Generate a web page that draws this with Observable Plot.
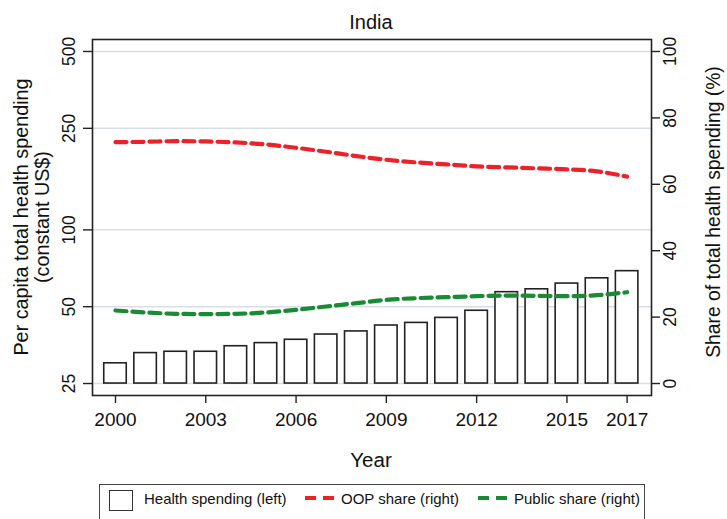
<!DOCTYPE html>
<html>
<head>
<meta charset="utf-8">
<script src="https://cdn.jsdelivr.net/npm/d3@7"></script>
<script src="https://cdn.jsdelivr.net/npm/@observablehq/plot@0.6"></script>
<style>
  html, body { margin: 0; padding: 0; background: #fff; }
  #wrap { position: relative; width: 727px; height: 519px; overflow: hidden; font-family: "Liberation Sans", Arial, sans-serif; color: #111; }
  .abs { position: absolute; white-space: nowrap; }
  .rot { transform: translate(-50%, -50%) rotate(-90deg); text-align: center; }
  #legend { position: absolute; left: 99px; top: 484px; width: 546px; height: 44px; border: 1px solid #444; box-sizing: border-box; }
  #legend .item { position: absolute; font-size: 15px; line-height: 15px; top: 5px; white-space: nowrap; }
  #legend svg { display: block; }
</style>
</head>
<body>
<div id="wrap"></div>
<script>
// ---- data ----
const years = [2000, 2001, 2002, 2003, 2004, 2005, 2006, 2007, 2008, 2009, 2010, 2011, 2012, 2013, 2014, 2015, 2016, 2017];
const spending = [30.0, 32.9, 33.3, 33.3, 35.0, 36.0, 37.1, 38.9, 40.0, 42.2, 43.2, 45.2, 48.2, 57.0, 58.5, 61.6, 64.6, 68.9];
const oopShare = [72.7, 72.8, 73.0, 72.9, 72.6, 72.0, 71.0, 69.8, 68.5, 67.4, 66.6, 66.0, 65.4, 65.1, 64.8, 64.5, 63.9, 62.3];
const publicShare = [22.0, 21.4, 21.0, 20.9, 21.0, 21.4, 22.2, 23.2, 24.2, 25.2, 25.7, 26.0, 26.3, 26.5, 26.4, 26.3, 26.6, 27.5];
const leftTicks = [25, 50, 100, 250, 500];
const rightTicks = [0, 20, 40, 60, 80, 100];
const xTicks = [2000, 2003, 2006, 2009, 2012, 2015, 2017];
const titleText = "India";
const xLabel = "Year";
const yLabelLeft = ["Per capita total health spending", "(constant US$)"];
const yLabelRight = "Share of total health spending (%)";
const legendLabels = ["Health spending (left)", "OOP share (right)", "Public share (right)"];

const RED = "#ec2227";
const GREEN = "#1a8a34";

// right axis (0-100 %) shares the plot height with left axis (25-500, log)
const shareToY = s => 25 * Math.pow(20, s / 100);

const data = years.map((year, i) => ({year, spend: spending[i], oop: oopShare[i], pub: publicShare[i]}));

const plot = Plot.plot({
  width: 727,
  height: 519,
  marginLeft: 92,
  marginRight: 76,
  marginTop: 39,
  marginBottom: 124,
  style: {fontFamily: '"Liberation Sans", Arial, sans-serif', fontSize: "18px", color: "#111", background: "transparent"},
  x: {type: "linear", domain: [1999.236, 2017.81]},
  y: {type: "log", domain: [22.44, 557.1]},
  marks: [
    Plot.gridY({ticks: leftTicks, stroke: "#d8dfe4", strokeOpacity: 1, strokeWidth: 1.5}),
    Plot.rectY(data, {x1: d => d.year - 0.374, x2: d => d.year + 0.374, y1: () => 25, y2: "spend", fill: "white", stroke: "#222", strokeWidth: 1.6}),
    Plot.line(data, {x: "year", y: d => shareToY(d.oop), stroke: RED, strokeWidth: 4.2, strokeDasharray: "11,6", curve: "monotone-x"}),
    Plot.line(data, {x: "year", y: d => shareToY(d.pub), stroke: GREEN, strokeWidth: 4.2, strokeDasharray: "11,6", curve: "monotone-x"}),
    Plot.frame({stroke: "#222", strokeWidth: 1.6}),
    Plot.axisY({anchor: "left", ticks: leftTicks, tickSize: 9, tickFormat: () => "", label: null, stroke: "#222", strokeWidth: 1.4}),
    Plot.axisY({anchor: "right", ticks: rightTicks.map(shareToY), tickSize: 8, tickFormat: () => "", label: null, stroke: "#222", strokeWidth: 1.4}),
    Plot.text(leftTicks, {y: d => d, text: d => String(d), frameAnchor: "left", dx: -23, rotate: -90, textAnchor: "middle", lineAnchor: "middle", fontSize: 17.5, fill: "#111"}),
    Plot.text(rightTicks, {y: s => shareToY(s), text: s => String(s), frameAnchor: "right", dx: 19, rotate: -90, textAnchor: "middle", lineAnchor: "middle", fontSize: 17.5, fill: "#111"}),
    Plot.axisX({ticks: xTicks, tickSize: 8, tickPadding: 9, tickFormat: d => String(d), label: null, fontSize: 19, stroke: "#222", strokeWidth: 1.4})
  ]
});

const wrap = document.getElementById("wrap");
plot.style.position = "absolute";
plot.style.left = "0px";
plot.style.top = "0px";
wrap.appendChild(plot);

function addText(txt, x, y, size, rotate) {
  const d = document.createElement("div");
  d.className = "abs" + (rotate ? " rot" : "");
  d.textContent = txt;
  d.style.fontSize = size + "px";
  d.style.lineHeight = size + "px";
  d.style.left = x + "px";
  d.style.top = y + "px";
  if (!rotate) d.style.transform = "translate(-50%, -50%)";
  wrap.appendChild(d);
  return d;
}
addText(titleText, 371, 22, 20, false);
addText(xLabel, 371, 460, 20.5, false);
addText(yLabelLeft[0], 22, 217, 19.8, true);
addText(yLabelLeft[1], 43, 217, 19.8, true);
addText(yLabelRight, 714, 212, 19.3, true);

// legend
const legend = document.createElement("div");
legend.id = "legend";
wrap.appendChild(legend);
function legendItem(html, left, top) {
  const d = document.createElement("div");
  d.className = "item";
  d.style.left = left + "px";
  d.style.top = top + "px";
  d.innerHTML = html;
  legend.appendChild(d);
  return d;
}
legendItem('<div style="width:22px;height:19px;border:1.5px solid #333;"></div>', 9, 5);
legendItem(legendLabels[0], 44, 6);
legendItem(`<svg width="30" height="6"><line x1="0" y1="3" x2="30" y2="3" stroke="${RED}" stroke-width="4.2" stroke-dasharray="11,7"/></svg>`, 205, 10);
legendItem(legendLabels[1], 241, 6);
legendItem(`<svg width="30" height="6"><line x1="0" y1="3" x2="30" y2="3" stroke="${GREEN}" stroke-width="4.2" stroke-dasharray="11,7"/></svg>`, 378, 10);
legendItem(legendLabels[2], 414, 6);
</script>
</body>
</html>
